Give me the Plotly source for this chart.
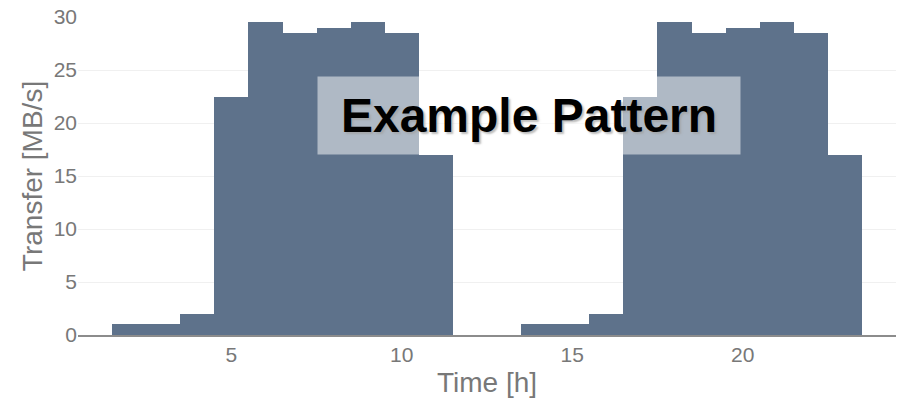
import plotly.graph_objects as go

hours = list(range(1, 25))
transfer = [0, 1, 1, 2, 22.5, 29.5, 28.5, 29, 29.5, 28.5, 17, 0,
            0, 1, 1, 2, 22.5, 29.5, 28.5, 29, 29.5, 28.5, 17, 0]
x_ticks = [5, 10, 15, 20]
y_ticks = [0, 5, 10, 15, 20, 25, 30]
title_text = "Example Pattern"

font_family = "Liberation Sans, Arial, sans-serif"
gray = "rgb(120,120,120)"

fig = go.Figure()
fig.add_trace(go.Bar(
    x=hours, y=transfer,
    marker=dict(color="#5e728b", line=dict(width=0)),
    width=1,
))

fig.add_annotation(
    x=13.72, y=20.7, xref="x", yref="y",
    text="<b>" + title_text + "</b>",
    showarrow=False,
    font=dict(family=font_family, size=48, color="black", shadow="2px 2px 2px rgba(160,160,160,0.7)"),
    bgcolor="rgba(255,255,255,0.5)",
    width=422, height=77, borderpad=0,
    xanchor="center", yanchor="middle", valign="middle", align="center",
)

fig.update_layout(
    width=897, height=398,
    margin=dict(l=78, r=1, t=17, b=63),
    paper_bgcolor="white", plot_bgcolor="white",
    bargap=0, showlegend=False,
    font=dict(family=font_family, color=gray),
    xaxis=dict(
        range=[0.5, 24.5], tickvals=x_ticks, showgrid=False, zeroline=False,
        showline=True, linecolor="rgb(140,140,140)", linewidth=1.5,
        tickfont=dict(size=21, color=gray), automargin=False,
        title=dict(text="Time [h]", font=dict(size=28, color=gray)),
    ),
    yaxis=dict(
        range=[0, 30], tickvals=y_ticks, showgrid=True, gridcolor="#f0f0f0",
        zeroline=False, showline=False, automargin=False,
        tickfont=dict(size=21, color=gray),
        title=dict(text="Transfer [MB/s]", font=dict(size=28, color=gray), standoff=2),
    ),
)

fig.write_html("out.html", config={"displayModeBar": False},
               post_script="document.body.style.margin='0';document.body.style.overflow='hidden';")
